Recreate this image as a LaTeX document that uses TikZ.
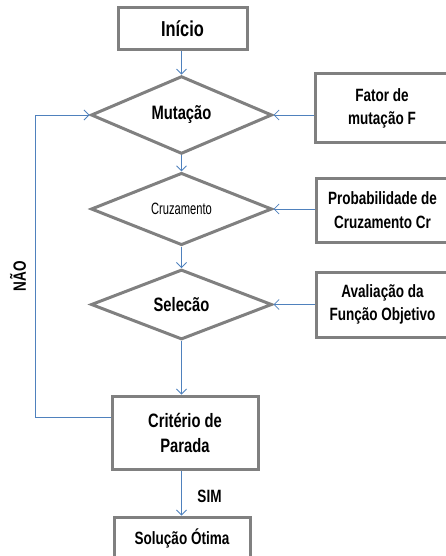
\documentclass[tikz,border=0pt]{standalone}
\usepackage{fontspec}
\setmainfont{Liberation Sans}[FakeStretch=0.76]
\newfontfamily\estreita{Liberation Sans}[FakeStretch=0.68]
\usetikzlibrary{shapes.geometric,arrows.meta}
\definecolor{azulseta}{RGB}{79,129,189}
\definecolor{cinzaborda}{RGB}{128,128,128}
\tikzset{
caixa/.style={draw=cinzaborda,line width=3pt,rectangle,align=center,inner sep=0pt,font=\bfseries\fontsize{17.8}{23.5}\selectfont},
losango/.style={draw=cinzaborda,line width=3pt,diamond,inner sep=0pt,minimum width=181pt,minimum height=64pt,font=\bfseries\fontsize{19.4}{22}\selectfont},
seta/.style={draw=azulseta,line width=0.8pt,-{Straight Barb[length=5pt,width=10pt]}},
rotulo/.style={font=\bfseries\fontsize{17.8}{20}\selectfont}
}
\begin{document}
\begin{tikzpicture}[x=1pt,y=-1pt]
\clip (0,0) rectangle (446,556);
\node[caixa,minimum width=129pt,minimum height=42pt,font=\bfseries\fontsize{21.6}{24}\selectfont](inicio) at (182.5,29) {Início};
\node[losango](mut) at (181.5,115) {Mutação};
\node[losango,font=\estreita\fontsize{16.4}{18}\selectfont](cruz) at (181.5,209) {Cruzamento};
\node[losango](sel) at (181.5,304.5) {Selecão};
\node[caixa,minimum width=134pt,minimum height=69pt](fator) at (382,108.5) {Fator de\\mutação F};
\node[caixa,minimum width=133pt,minimum height=64pt](prob) at (382.5,210) {Probabilidade de\\Cruzamento Cr};
\node[caixa,minimum width=133pt,minimum height=65pt](aval) at (382.5,304.5) {Avaliação da\\Função Objetivo};
\node[caixa,minimum width=146pt,minimum height=73pt,font=\bfseries\fontsize{19.4}{25}\selectfont](crit) at (185,432.5) {Critério de\\Parada};
\node[caixa,minimum width=136pt,minimum height=42pt](sol) at (182,538) {Solução Ótima};
\node[rotulo](sim) at (209.5,496) {SIM};
\node[rotulo,rotate=90](nao) at (18,276) {NÃO};
\coordinate (volta) at (35,417);
\draw[seta] (inicio.south -| mut.north) -- (mut.north);
\draw[seta] (mut) -- (cruz);
\draw[seta] (cruz) -- (sel);
\draw[seta] (sel.south) -- (sel.south |- crit.north);
\draw[seta] (crit.south -| sel.south) -- (sol.north -| sel.south);
\draw[seta] (fator.west |- mut.east) -- (mut.east);
\draw[seta] (prob.west |- cruz.east) -- (cruz.east);
\draw[seta] (aval.west |- sel.east) -- (sel.east);
\draw[seta] (crit.west |- volta) -- (volta) |- (mut.west);
\end{tikzpicture}
\end{document}
